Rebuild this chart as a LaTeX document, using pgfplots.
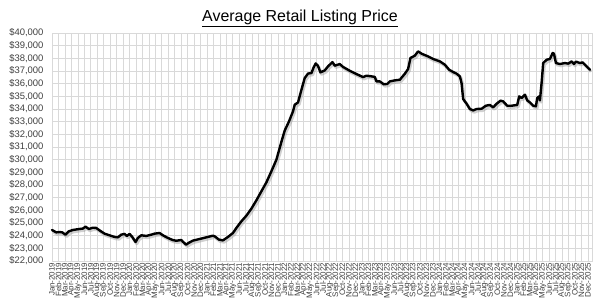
\documentclass[border=0pt]{standalone}
\usepackage{pgfplots}
\usepackage{pgfplotstable}
\pgfplotsset{compat=1.18}
\usepackage{fontspec}
\setmainfont{Liberation Sans}
\definecolor{tickgray}{HTML}{404040}
\definecolor{gridgray}{HTML}{D9D9D9}
\pgfplotstableread{
m price
0.00 24450
0.65 24260
1.16 24290
1.58 24260
2.09 24080
2.60 24340
3.22 24450
4.26 24530
4.78 24560
5.19 24710
5.71 24530
6.33 24630
6.85 24610
7.36 24420
8.14 24160
8.91 24030
9.69 23900
10.20 23870
10.73 24080
11.24 24140
11.60 23980
12.02 24140
12.43 23900
12.95 23500
13.30 23820
13.83 24030
14.60 23980
15.38 24080
15.89 24160
16.67 24210
17.18 24030
17.95 23820
18.73 23650
19.26 23600
20.03 23660
20.28 23520
20.78 23290
21.16 23430
21.83 23610
22.87 23740
23.91 23870
24.93 24000
25.19 23950
25.86 23690
26.48 23630
27.26 23900
28.03 24210
28.56 24610
29.33 25130
30.11 25580
30.88 26130
31.66 26790
32.43 27500
33.21 28210
33.98 29080
34.76 30000
35.53 31400
36.05 32300
36.71 33020
37.33 33810
37.60 34340
38.11 34520
38.64 35520
39.15 36450
39.66 36800
40.19 36840
40.54 37300
40.85 37600
41.21 37400
41.58 36890
42.25 37050
42.76 37370
43.44 37700
43.80 37420
44.57 37550
45.09 37320
46.12 37020
47.16 36760
48.19 36520
48.71 36630
49.49 36580
50.00 36530
50.26 36180
50.78 36180
51.40 35950
51.94 35980
52.33 36180
53.10 36260
53.88 36310
54.65 36780
55.16 37160
55.53 38030
56.20 38210
56.71 38550
57.24 38370
58.26 38150
59.04 37950
59.81 37810
60.08 37760
60.85 37500
61.52 37100
62.14 36920
62.67 36790
63.18 36580
63.44 36050
63.69 34790
64.22 34420
64.73 34000
65.24 33890
65.77 34000
66.54 34020
67.21 34260
67.83 34320
68.34 34130
68.87 34420
69.49 34660
69.89 34600
70.51 34260
71.19 34260
72.06 34320
72.37 35000
72.74 34870
73.26 35130
73.61 34680
74.03 34520
74.54 34260
74.96 34210
75.16 34870
75.47 35000
75.58 34680
75.84 36050
76.09 37630
76.62 37890
77.13 37950
77.55 38420
77.75 38370
78.06 37630
78.68 37550
79.46 37630
79.97 37580
80.50 37760
80.85 37550
81.16 37740
81.78 37630
82.20 37680
82.71 37420
83.33 37100
}\pricedata
\begin{document}
\begin{tikzpicture}[x=1bp,y=1bp]
\path[use as bounding box] (0,0) rectangle (600,-307);
\node[font=\fontsize{16}{16}\selectfont, anchor=base] at (300,-21.7) {\underline{Average Retail Listing Price}};
\begin{axis}[
  at={(52bp,-261bp)}, anchor=south west,
  scale only axis, width=540bp, height=228bp,
  xmin=0, xmax=83.65, ymin=22000, ymax=40000,
  ytick={22000,23000,...,40000},
  xtick={0,...,83},
  xticklabels={Jan-2019,Feb-2019,Mar-2019,Apr-2019,May-2019,Jun-2019,Jul-2019,Aug-2019,Sep-2019,Oct-2019,Nov-2019,Dec-2019,
Jan-2020,Feb-2020,Mar-2020,Apr-2020,May-2020,Jun-2020,Jul-2020,Aug-2020,Sep-2020,Oct-2020,Nov-2020,Dec-2020,
Jan-2021,Feb-2021,Mar-2021,Apr-2021,May-2021,Jun-2021,Jul-2021,Aug-2021,Sep-2021,Oct-2021,Nov-2021,Dec-2021,
Jan-2022,Feb-2022,Mar-2022,Apr-2022,May-2022,Jun-2022,Jul-2022,Aug-2022,Sep-2022,Oct-2022,Nov-2022,Dec-2022,
Jan-2023,Feb-2023,Mar-2023,Apr-2023,May-2023,Jun-2023,Jul-2023,Aug-2023,Sep-2023,Oct-2023,Nov-2023,Dec-2023,
Jan-2024,Feb-2024,Mar-2024,Apr-2024,May-2024,Jun-2024,Jul-2024,Aug-2024,Sep-2024,Oct-2024,Nov-2024,Dec-2024,
Jan-2025,Feb-2025,Mar-2025,Apr-2025,May-2025,Jun-2025,Jul-2025,Aug-2025,Sep-2025,Oct-2025,Nov-2025,Dec-2025},
  xticklabel style={rotate=90, anchor=east, font=\fontsize{8}{8}\selectfont, text=tickgray, inner sep=1.5bp},
  yticklabel style={font=\fontsize{9.5}{9.5}\selectfont, text=tickgray, xshift=-5bp},
  scaled y ticks=false,
  yticklabel={\$\pgfmathprintnumber{\tick}},
  /pgf/number format/.cd, fixed, precision=0, 1000 sep={,}, assume math mode=true, /pgfplots/.cd,
  grid=major,
  major grid style={draw=gridgray, line width=0.6bp},
  axis line style={draw=gridgray, line width=0.6bp},
  tick style={draw=none},
  clip=false,
]
\addplot[black!40, line width=3bp, opacity=0.45, transform canvas={xshift=1.2bp, yshift=-1.8bp}, line join=round] table[x=m, y=price] {\pricedata};
\addplot[black, line width=2.4bp, line join=round, line cap=round] table[x=m, y=price] {\pricedata};
\end{axis}
\end{tikzpicture}
\end{document}
